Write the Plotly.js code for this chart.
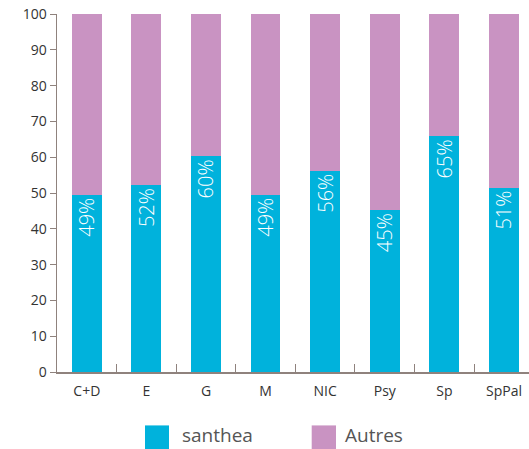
<!DOCTYPE html>
<html>
<head>
<meta charset="utf-8">
<script src="https://cdn.plot.ly/plotly-3.0.1.min.js"></script>
<style>html,body{margin:0;padding:0;background:#fff;}#chart{width:529px;height:449px;}</style>
</head>
<body>
<div id="chart"></div>
<script>
const categories = ["C+D", "E", "G", "M", "NIC", "Psy", "Sp", "SpPal"];
const santheaValues = [49.5, 52.2, 60.2, 49.5, 56.2, 45.2, 65.8, 51.5];
const santheaLabels = ["49%", "52%", "60%", "49%", "56%", "45%", "65%", "51%"];
const autresValues = santheaValues.map(v => 100 - v);
const seriesNames = ["santhea", "Autres"];
const seriesColors = ["#00b2dc", "#c993c2"];
const yTicks = [0, 10, 20, 30, 40, 50, 60, 70, 80, 90, 100];

const FONT = "'Open Sans', 'Noto Sans', sans-serif";
const axisColor = "#8f827d";

const traces = [
  {
    type: "bar", name: seriesNames[0], x: categories, y: santheaValues,
    marker: {color: seriesColors[0]},
    text: santheaLabels, textposition: "inside", insidetextanchor: "end",
    textangle: -90, constraintext: "none",
    textfont: {family: FONT, size: 20, color: "#ffffff", weight: 300},
    hoverinfo: "skip"
  },
  {
    type: "bar", name: seriesNames[1], x: categories, y: autresValues,
    marker: {color: seriesColors[1]}, hoverinfo: "skip"
  }
];

// custom legend (large square swatches) in paper coordinates
const legendItems = [
  {x0: 0.1864, x1: 0.2373, tx: 0.2627},
  {x0: 0.5396, x1: 0.5911, tx: 0.6081}
];
const shapes = legendItems.map((it, i) => ({
  type: "rect", xref: "paper", yref: "paper",
  x0: it.x0, x1: it.x1, y0: -0.1492, y1: -0.2162,
  fillcolor: seriesColors[i], line: {width: 0}
}));
const annotations = legendItems.map((it, i) => ({
  xref: "paper", yref: "paper", x: it.tx, y: -0.1757,
  xanchor: "left", yanchor: "middle", showarrow: false, borderpad: 0,
  text: seriesNames[i], font: {family: FONT, size: 19, color: "#555555"}
}));

const layout = {
  width: 529, height: 449,
  margin: {l: 57, r: 0, t: 14, b: 76.5, pad: 0},
  barmode: "stack", bargap: 0.5,
  showlegend: false,
  paper_bgcolor: "#ffffff", plot_bgcolor: "#ffffff",
  font: {family: FONT, color: "#333333"},
  xaxis: {
    range: [-0.5, 7.42], showgrid: false, zeroline: false,
    showline: true, linecolor: axisColor, linewidth: 1.5,
    ticks: "inside", tickson: "boundaries", ticklen: 8, tickcolor: axisColor, tickwidth: 1,
    ticklabelstandoff: 6,
    tickfont: {family: FONT, size: 14, color: "#333333"}
  },
  yaxis: {
    range: [0, 100], tickvals: yTicks, showgrid: false, zeroline: false,
    showline: true, linecolor: axisColor, linewidth: 1.5,
    ticks: "outside", ticklen: 6, tickcolor: axisColor, tickwidth: 1,
    tickfont: {family: FONT, size: 14, color: "#333333"}
  },
  shapes: shapes,
  annotations: annotations
};

Plotly.newPlot("chart", traces, layout, {staticPlot: true, displayModeBar: false});
</script>
</body>
</html>
